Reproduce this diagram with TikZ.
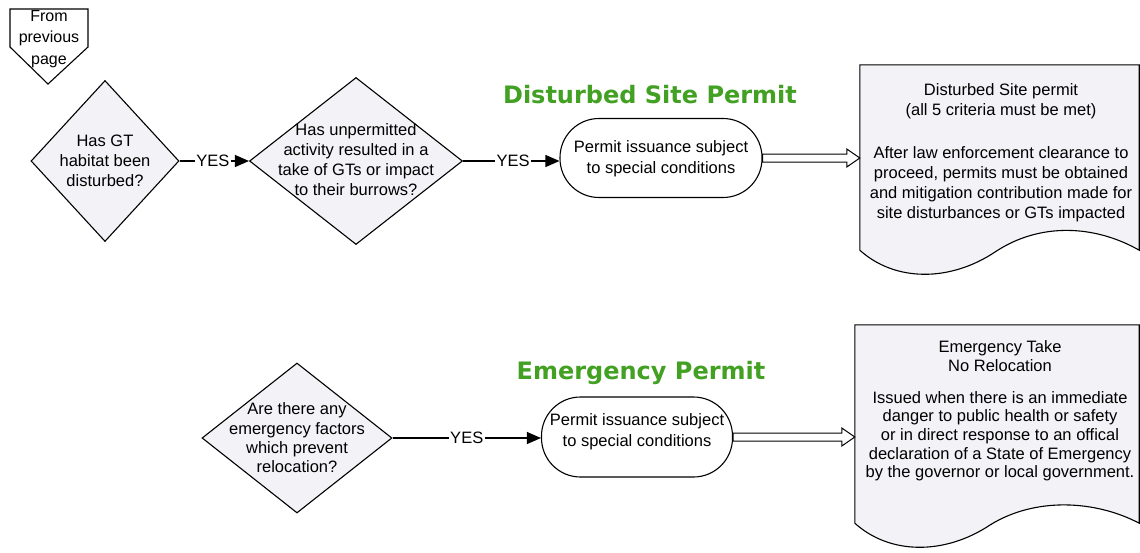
\documentclass[tikz,border=0pt]{standalone}
\usepackage{fontspec}
\setmainfont{Liberation Sans}
\newfontfamily\titlefont{DejaVu Sans}
\usetikzlibrary{shapes.geometric,arrows.meta,calc}
\definecolor{titlegreen}{RGB}{66,160,34}
\definecolor{shapefill}{RGB}{243,243,247}
\begin{document}
\begin{tikzpicture}[x=1pt,y=-1pt,
  font=\fontsize{16.5}{20}\selectfont,
  decision/.style={diamond, draw, line width=1.1pt, fill=shapefill, inner sep=0pt},
  terminal/.style={rectangle, draw, line width=1.1pt, fill=white, rounded corners=39pt, inner sep=0pt, align=center},
  yesarrow/.style={draw, line width=1.1pt, -{Triangle[length=14pt,width=12pt]}},
  yeslabel/.style={fill=white, inner sep=1.5pt},
  hollowarrow/.style={draw, line width=1pt, fill=white, line join=miter},
  docshape/.style={draw, line width=1.1pt, fill=shapefill},
  titletext/.style={text=titlegreen, font=\titlefont\bfseries\fontsize{24}{28}\selectfont},
  doctext/.style={align=center, inner sep=0pt}
]
\useasboundingbox (0,0) rectangle (1140,552);
\fill[white] (0,0) rectangle (1140,552);

% off-page connector
\draw[line width=1.1pt, fill=white] (10,9) -- (88,9) -- (88,47) -- (48,84) -- (10,47) -- cycle;
\node[align=center, inner sep=0pt, font=\fontsize{16}{21.5}\selectfont] (opc) at (49,39) {From\\previous\\page};

% titles
\node[titletext] (t1) at (650,95) {Disturbed Site Permit};
\node[titletext] (t2) at (641,373) {Emergency Permit};

% row 1
\node[decision, minimum width=148pt, minimum height=161pt,
  label={[align=center]center:Has GT\\habitat been\\disturbed?}] (d1) at (105,161) {};
\node[decision, minimum width=213pt, minimum height=167pt,
  label={[align=center, yshift=1pt]center:Has unpermitted\\activity resulted in a\\take of GTs or impact\\to their burrows?}] (d2) at (356,161) {};
\node[terminal, minimum width=202pt, minimum height=79pt,
  label={[align=center, font=\fontsize{16.5}{21}\selectfont, yshift=-1pt]center:Permit issuance subject\\to special conditions}] (r1) at (661,158) {};

\node[inner sep=0pt, minimum width=279pt, minimum height=185pt] (doc1) at (999.5,157.5) {};
\draw[docshape] (doc1.south west) -- (doc1.north west) -- (doc1.north east) -- (doc1.south east)
  .. controls (1095,225) and (1040,222) .. (995,252)
  .. controls (950,282) and (895,282) .. (doc1.south west) -- cycle;
\node[doctext] (doc1text) at (1001,153) {Disturbed Site permit\\(all 5 criteria must be met)\\[23pt]After law enforcement clearance to\\proceed, permits must be obtained\\and mitigation contribution made for\\site disturbances or GTs impacted};

\draw[yesarrow] (d1.east) -- node[yeslabel, pos=0.48] {YES} (d2.west);
\draw[yesarrow] (d2.east) -- node[yeslabel, pos=0.52] {YES} (d2.east -| r1.west);
\draw[hollowarrow] let \p1=(r1.east), \p2=(doc1.west) in
  (\x1,\y1+4pt) -- (\x2-13pt,\y1+4pt) -- (\x2-13pt,\y1+9pt) -- (\x2,\y1) -- (\x2-13pt,\y1-9pt) -- (\x2-13pt,\y1-4pt) -- (\x1,\y1-4pt) -- cycle;

% row 2
\node[decision, minimum width=190pt, minimum height=150pt,
  label={[align=center, font=\fontsize{16.5}{19.3}\selectfont]center:Are there any\\emergency factors\\which prevent\\relocation?}] (d3) at (297,438) {};
\node[terminal, minimum width=191pt, minimum height=80pt,
  label={[align=center, font=\fontsize{16.5}{21}\selectfont, yshift=5pt]center:Permit issuance subject\\to special conditions}] (r2) at (637,437) {};

\node[inner sep=0pt, minimum width=284pt, minimum height=198pt] (doc2) at (997,424) {};
\draw[docshape] (doc2.south west) -- (doc2.north west) -- (doc2.north east) -- (doc2.south east)
  .. controls (1095,500) and (1035,497) .. (990,525)
  .. controls (945,555) and (890,555) .. (doc2.south west) -- cycle;
\node[doctext, font=\fontsize{16.5}{18.7}\selectfont] (doc2text) at (1000,411) {Emergency Take\\No Relocation\\[13pt]Issued when there is an immediate\\danger to public health or safety\\or in direct response to an offical\\declaration of a State of Emergency\\by the governor or local government.};

\draw[yesarrow] (d3.east) -- node[yeslabel] {YES} (d3.east -| r2.west);
\draw[hollowarrow] let \p1=(r2.east), \p2=(doc2.west) in
  (\x1,\y1+4pt) -- (\x2-13pt,\y1+4pt) -- (\x2-13pt,\y1+9pt) -- (\x2,\y1) -- (\x2-13pt,\y1-9pt) -- (\x2-13pt,\y1-4pt) -- (\x1,\y1-4pt) -- cycle;
\end{tikzpicture}
\end{document}
